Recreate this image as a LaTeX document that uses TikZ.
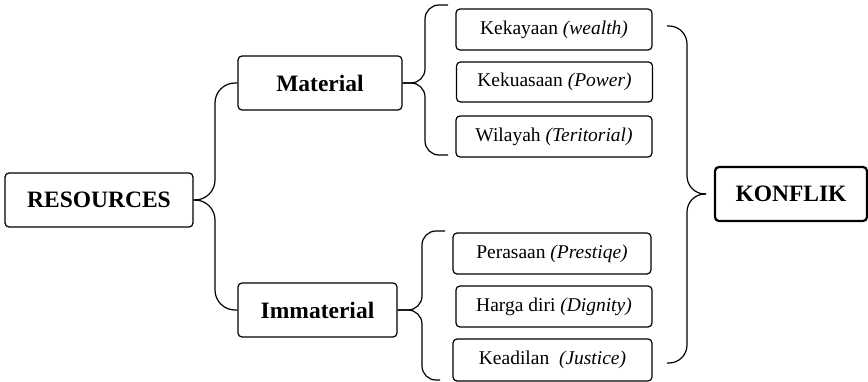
\documentclass[tikz,border=0pt]{standalone}
\usepackage{fontspec}
\setmainfont{Liberation Serif}
\begin{document}
\begin{tikzpicture}[x=1pt,y=-1pt,
  box/.style={draw, line width=1.2pt, rounded corners=4pt, inner sep=0pt, align=center},
  bigbox/.style={box, minimum height=54pt, font=\fontsize{23.5}{26}\selectfont\bfseries},
  itembox/.style={box, minimum height=41pt, minimum width=196pt, font=\fontsize{19.5}{22}\selectfont},
  brace/.style={draw, line width=1.2pt}]
\useasboundingbox (0,0) rectangle (868,382);
% main nodes
\node[bigbox, minimum width=188pt] (res) at (99,200) {RESOURCES};
\node[bigbox, minimum width=164pt] (mat) at (320,83) {Material};
\node[bigbox, minimum width=159pt] (imm) at (317.5,310) {Immaterial};
\node[bigbox, minimum width=152pt, line width=2.2pt] (kon) at (791,194) {KONFLIK};
% items
\node[itembox] (k1) at (554,29.5) {Kekayaan \textit{(wealth)}};
\node[itembox, minimum height=40pt] (k2) at (554.5,82) {Kekuasaan \textit{(Power)}};
\node[itembox] (k3) at (554,136.5) {Wilayah \textit{(Teritorial)}};
\node[itembox, minimum width=198pt] (p1) at (552,253.5) {Perasaan \textit{(Prestiqe)}};
\node[itembox] (p2) at (554,306.5) {Harga diri \textit{(Dignity)}};
\node[itembox, minimum width=199pt, minimum height=42pt] (p3) at (552.5,360) {Keadilan\ \ \textit{(Justice)}};
% brace coordinates
\coordinate (b1v) at (215,200);
\coordinate (b2top) at (448,5);
\coordinate (b2bot) at (448,155);
\coordinate (b2v) at (425,83);
\coordinate (b3top) at (445,231);
\coordinate (b3bot) at (440,380);
\coordinate (b3v) at (422,310);
\coordinate (b4top) at (667,26);
\coordinate (b4bot) at (667,363);
\coordinate (b4v) at (687,194);
\coordinate (b4tip) at (706,194);
% braces
\draw[brace, rounded corners=20pt] (mat.west) -| (b1v) -- (res.east);
\draw[brace, rounded corners=20pt] (imm.west) -| (b1v) -- (res.east);
\draw[brace, rounded corners=14pt] (b2top) -| (b2v) -- (mat.east);
\draw[brace, rounded corners=14pt] (b2bot) -| (b2v) -- (mat.east);
\draw[brace, rounded corners=14pt] (b3top) -| (b3v) -- (imm.east);
\draw[brace, rounded corners=14pt] (b3bot) -| (b3v) -- (imm.east);
\draw[brace, rounded corners=18pt] (b4top) -| (b4v) -- (b4tip);
\draw[brace, rounded corners=18pt] (b4bot) -| (b4v) -- (b4tip);
\end{tikzpicture}
\end{document}
